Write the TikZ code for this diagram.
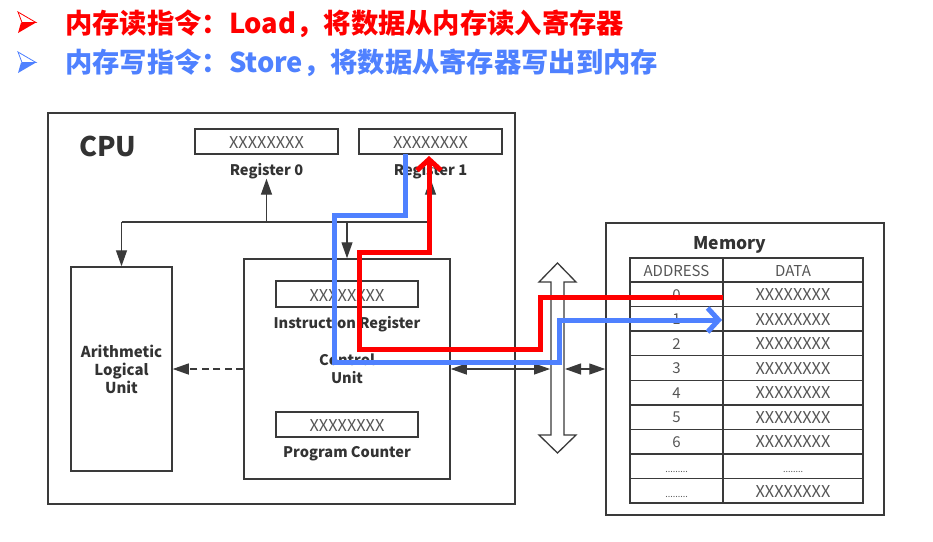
\documentclass[tikz,border=0pt]{standalone}
\usepackage{fontspec}
\setmainfont{Noto Sans CJK SC}
\usetikzlibrary{arrows.meta}
\definecolor{ln}{HTML}{3A3A3A}
\definecolor{txt}{HTML}{333333}
\definecolor{xgray}{HTML}{555555}
\definecolor{rd}{HTML}{FF0000}
\definecolor{bl}{HTML}{4F81FF}
\begin{document}
\begin{tikzpicture}[x=1pt,y=-1pt,
  box/.style={draw=ln, line width=1.5pt, inner sep=0pt},
  xtext/.style={anchor=base, inner sep=0pt, text=xgray, font=\fontsize{16.3}{16}\selectfont},
  lab/.style={anchor=base, inner sep=0pt, text=txt, font=\bfseries\fontsize{14.6}{15}\selectfont},
  ttxt/.style={anchor=base, inner sep=0pt, text=xgray, font=\fontsize{15}{15}\selectfont},
  dots/.style={anchor=base, inner sep=0pt, text=xgray, font=\fontsize{9}{9}\selectfont},
  arr/.style={draw=ln, line width=1.3pt, -{Triangle[length=16pt,width=11pt]}},
  arrb/.style={draw=ln, line width=1.3pt, {Triangle[length=16pt,width=11pt]}-{Triangle[length=16pt,width=11pt]}},
  hot/.style={line width=5pt, line join=miter, -{Straight Barb[length=11pt,width=24pt]}}
]
\useasboundingbox (0,0) rectangle (933,541);
\fill[white] (0,0) rectangle (933,541);

% title bullets
\fill[rd] (21,22.5) -- (36,22.5) -- (18,33) -- cycle;
\draw[rd, line width=0.8pt, line join=miter] (18,12) -- (36,22.5) -- (22,22.5) -- cycle;
\fill[bl] (21,62.5) -- (36,62.5) -- (18,73) -- cycle;
\draw[bl, line width=0.8pt, line join=miter] (18,52) -- (36,62.5) -- (22,62.5) -- cycle;
\node[anchor=base west, inner sep=0pt, text=rd, font=\bfseries\fontsize{27.3}{27}\selectfont] (t1) at (65,33) {内存读指令：Load，将数据从内存读入寄存器};
\node[anchor=base west, inner sep=0pt, text=bl, font=\bfseries\fontsize{27.3}{27}\selectfont] (t2) at (65,72) {内存写指令：Store，将数据从寄存器写出到内存};

% CPU
\node[box, minimum width=467pt, minimum height=391pt] (cpu) at (281.5,308.5) {};
\node[anchor=base west, inner sep=0pt, text=txt, font=\bfseries\fontsize{27}{27}\selectfont] (cpulbl) at (79,156) {CPU};

\node[box, minimum width=143pt, minimum height=25pt] (reg0) at (266.5,141.5) {};
\node[xtext] (reg0x) at (266.5,148) {XXXXXXXX};
\node[lab] (reg0l) at (266.5,175) {Register 0};
\node[box, minimum width=143pt, minimum height=25pt] (reg1) at (430.5,141.5) {};
\node[xtext] (reg1x) at (430.5,148) {XXXXXXXX};
\node[lab] (reg1l) at (430.5,175) {Register 1};

\node[box, minimum width=101pt, minimum height=204pt] (alu) at (121.5,369) {};
\node[lab, font=\bfseries\fontsize{15}{15}\selectfont] (alu1) at (121.5,357) {Arithmetic};
\node[lab, font=\bfseries\fontsize{15}{15}\selectfont] (alu2) at (121.5,375) {Logical};
\node[lab, font=\bfseries\fontsize{15}{15}\selectfont] (alu3) at (121.5,393) {Unit};

\node[box, minimum width=206pt, minimum height=220pt] (cu) at (347,369) {};
\node[box, minimum width=142pt, minimum height=26pt] (ir) at (347,294) {};
\node[xtext] (irx) at (347,301) {XXXXXXXX};
\node[lab] (irl) at (347,328) {Instruction Register};
\node[lab] (cu1) at (347,365) {Control};
\node[lab] (cu2) at (347,383) {Unit};
\node[box, minimum width=142pt, minimum height=25pt] (pc) at (347,424.5) {};
\node[xtext] (pcx) at (347,431) {XXXXXXXX};
\node[lab] (pcl) at (347,457) {Program Counter};

% internal bus
\coordinate (jL) at (121.5,222);
\coordinate (j0) at (266.5,222);
\coordinate (jC) at (347,222);
\coordinate (jR) at (430.5,222);
\draw[draw=ln, line width=1.3pt] (jL) -- (jR);
\draw[arr] (j0) -- (j0 |- reg0l.south);
\draw[arr] (jR) -- (jR |- reg1l.south);
\draw[arr] (jL) -- (alu.north);
\draw[arr] (jC) -- (cu.north);
\draw[arr, dash pattern=on 7pt off 4.5pt] (cu.west) -- (alu.east);

% system bus
\draw[draw=ln, line width=1.3pt, fill=white] (557.5,263) -- (576,282) -- (564,282) -- (564,435) -- (576,435) -- (557.5,453) -- (539,435) -- (551,435) -- (551,282) -- (539,282) -- cycle;
\coordinate (busW) at (550,369);
\coordinate (busE) at (565,369);
\draw[arrb] (cu.east) -- (busW);

% memory
\node[box, minimum width=278pt, minimum height=292pt] (mem) at (745,369) {};
\draw[arrb] (busE) -- (mem.west);
\node[lab, font=\bfseries\fontsize{17.5}{17}\selectfont] (meml) at (730,249) {Memory};
\node[box, minimum width=93pt, minimum height=24pt] (ha) at (676.5,270) {};
\node[box, minimum width=140pt, minimum height=24pt] (hd) at (793,270) {};
\node[ttxt] (hat) at (676.5,276.5) {ADDRESS};
\node[ttxt] (hdt) at (793,276.5) {DATA};
\foreach \i/\a in {0/0,1/1,2/2,3/3,4/4,5/5,6/6}{
  \node[box, minimum width=93pt, minimum height=24.56pt] (a\i) at (676.5,{294.3+24.56*\i}) {};
  \node[box, minimum width=140pt, minimum height=24.56pt] (d\i) at (793,{294.3+24.56*\i}) {};
  \node[ttxt] (at\i) at (676.5,{300+24.56*\i}) {\a};
  \node[xtext] (dt\i) at (793,{300.5+24.56*\i}) {XXXXXXXX};
}
\node[box, minimum width=93pt, minimum height=24.56pt] (a7) at (676.5,466.2) {};
\node[box, minimum width=140pt, minimum height=24.56pt] (d7) at (793,466.2) {};
\node[dots] (at7) at (676.5,472) {.........};
\node[dots] (dt7) at (793,472) {........};
\node[box, minimum width=93pt, minimum height=24.56pt] (a8) at (676.5,490.8) {};
\node[box, minimum width=140pt, minimum height=24.56pt] (d8) at (793,490.8) {};
\node[dots] (at8) at (676.5,497) {.........};
\node[xtext] (dt8) at (793,497) {XXXXXXXX};

% Load path (red)
\coordinate (r0) at (723,297);
\coordinate (r1) at (540,297);
\coordinate (r2) at (540,349);
\coordinate (r3) at (359,349);
\coordinate (r4) at (359,252);
\coordinate (r5) at (429,252);
\coordinate (r6) at (429,156);
\draw[rd, hot] (r0) -- (r1) -- (r2) -- (r3) -- (r4) -- (r5) -- (r6);

% Store path (blue)
\coordinate (b0) at (405,154);
\coordinate (b1) at (405,215);
\coordinate (b2) at (334,215);
\coordinate (b3) at (334,362);
\coordinate (b4) at (559,362);
\coordinate (b5) at (559,320);
\coordinate (b6) at (722,320);
\draw[bl, hot] (b0) -- (b1) -- (b2) -- (b3) -- (b4) -- (b5) -- (b6);
\end{tikzpicture}
\end{document}
